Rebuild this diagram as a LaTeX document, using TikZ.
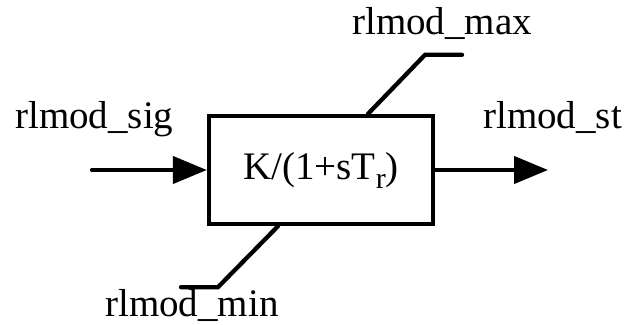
\documentclass[tikz,border=0pt]{standalone}
\usepackage{fontspec}
\setmainfont{Liberation Serif}
\usetikzlibrary{arrows.meta, positioning}

\newcommand{\lowsub}[1]{\raisebox{-9pt}{\fontsize{30}{30}\selectfont #1}}

\begin{document}
\begin{tikzpicture}[x=1pt, y=1pt, >={Triangle[length=34pt, width=27pt]},
    wire/.style={line width=4.3pt, line cap=round},
    lbl/.style={inner sep=0pt, anchor=base west, font=\fontsize{39}{47}\selectfont}]
    \useasboundingbox (0,0) rectangle (626,324);
    % transfer block
    \node[draw, line width=4.3pt, minimum width=224pt, minimum height=108pt,
          font=\fontsize{39}{47}\selectfont] (blk) at (321,154) {K/(1+sT\lowsub{r})};
    \coordinate (in) at (92,154);
    \coordinate (out) at (548,154);
    \draw[wire, ->] (in) -- (blk.west);
    \draw[wire, ->] (blk.east) -- (out);
    % limits
    \draw[wire] ([xshift=47pt]blk.north) -- ++(57,59) coordinate (maxk) -- ++(37,0) coordinate (maxe);
    \draw[wire] ([xshift=-43pt]blk.south) -- ++(-60,-61) coordinate (mink) -- ++(-37,0) coordinate (mine);
    % signal names
    \node[lbl] (sig) at (15,195) {rlmod\_sig};
    \node[lbl] (st) at (483,195) {rlmod\_st};
    \node[lbl] (max) at (352,289) {rlmod\_max};
    \node[lbl] (min) at (105,8) {rlmod\_min};
\end{tikzpicture}
\end{document}
